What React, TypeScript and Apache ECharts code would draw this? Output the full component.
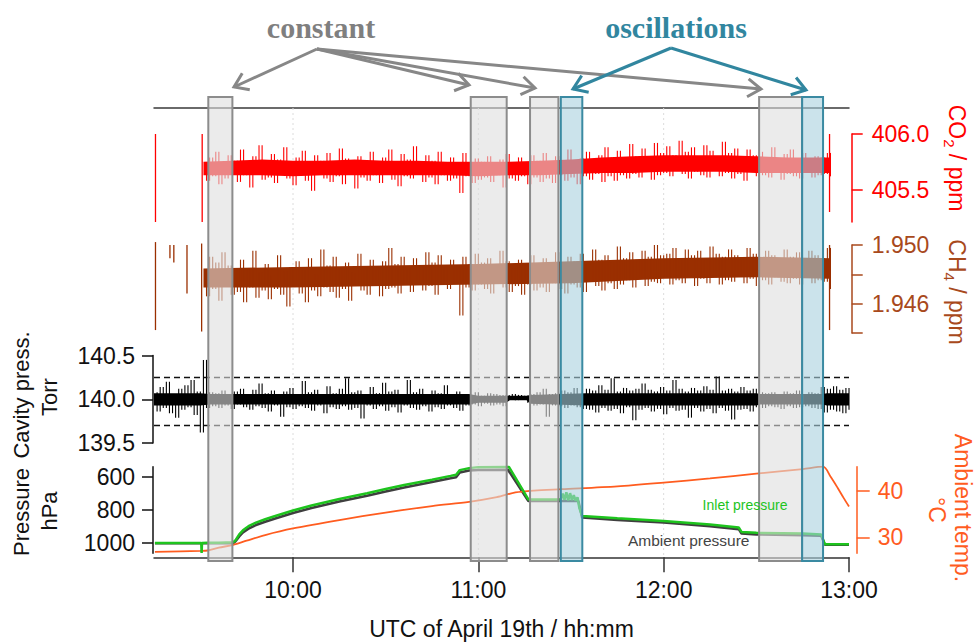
import { useEffect, useRef } from 'react';
import * as echarts from 'echarts';

// ---- time axis (decimal hours, UTC), 09:15 - 13:00 ----
const timeRange = [9.25, 13.0];
const hourTicks = [10, 11, 12, 13];
const hourGuides = [10, 11, 12];
const minuteStep = 1 / 60; // one logged value per minute

// ---- CO2 (ppm), one value per minute from 09:31 ----
const co2Start = 9 + 31 / 60;
const co2Ppm = [
  405.70, 405.58, 405.79, 405.62, 405.84, 405.55, 405.74, 405.60, 405.81, 405.66,
  405.76, 405.57, 405.86, 405.63, 405.72, 405.52, 405.80, 405.64, 405.90, 405.59,
  405.73, 405.61, 405.82, 405.56, 405.77, 405.65, 405.88, 405.60, 405.71, 405.54,
  405.79, 405.63, 405.85, 405.58, 405.74, 405.49, 405.81, 405.66, 405.76, 405.60,
  405.83, 405.57, 405.70, 405.62, 405.87, 405.55, 405.78, 405.64, 405.73, 405.51,
  405.80, 405.61, 405.75, 405.58, 405.84, 405.63, 405.71, 405.56, 405.79, 405.65,
  405.86, 405.59, 405.74, 405.53, 405.82, 405.62, 405.77, 405.60, 405.89, 405.64,
  405.72, 405.57, 405.81, 405.61, 405.76, 405.55, 405.84, 405.63, 405.70, 405.58,
  405.79, 405.60, 405.74, 405.47, 405.83, 405.62, 405.71, 405.56, 405.78, 405.59,
  405.75, 405.61, 405.80, 405.57, 405.73, 405.63, 405.77, 405.52, 405.82, 405.60,
  405.74, 405.58, 405.79, 405.62, 405.70, 405.55, 405.81, 405.61, 405.76, 405.57,
  405.83, 405.60, 405.72, 405.56, 405.80, 405.63, 405.75, 405.58, 405.86, 405.61,
  405.73, 405.55, 405.78, 405.62, 405.84, 405.59, 405.76, 405.64, 405.81, 405.57,
  405.88, 405.62, 405.79, 405.58, 405.85, 405.63, 405.77, 405.60, 405.91, 405.64,
  405.80, 405.61, 405.87, 405.66, 405.78, 405.59, 405.92, 405.63, 405.83, 405.65,
  405.89, 405.62, 405.81, 405.67, 405.94, 405.64, 405.84, 405.60, 405.88, 405.66,
  405.80, 405.63, 405.90, 405.61, 405.85, 405.67, 405.79, 405.62, 405.93, 405.65,
  405.83, 405.60, 405.87, 405.64, 405.78, 405.58, 405.86, 405.66, 405.81, 405.62,
  405.84, 405.63, 405.79, 405.61, 405.88, 405.65, 405.76, 405.59, 405.82, 405.64,
  405.86, 405.62, 405.78, 405.60, 405.83, 405.66, 405.75, 405.61, 405.80, 405.63,
  405.79, 405.64, 405.83, 405.62,
];
// dense core of the 1 Hz signal: [time, low, high]
const co2Band = [
  [9.517, 405.63, 405.75], [9.667, 405.63, 405.76], [9.833, 405.63, 405.77],
  [10.0, 405.62, 405.76], [10.167, 405.63, 405.76], [10.333, 405.63, 405.77],
  [10.5, 405.63, 405.76], [10.667, 405.63, 405.76], [10.833, 405.63, 405.75],
  [11.0, 405.62, 405.75], [11.167, 405.63, 405.75], [11.333, 405.63, 405.76],
  [11.5, 405.64, 405.77], [11.667, 405.65, 405.79], [11.833, 405.65, 405.80],
  [12.0, 405.66, 405.81], [12.167, 405.66, 405.81], [12.333, 405.66, 405.81],
  [12.5, 405.65, 405.80], [12.667, 405.65, 405.79], [12.9, 405.65, 405.79],
];
// short vertical excursions: [time, upper, lower]
const co2Dropouts = [
  [9.258, 406.0, 405.21],
  [9.51, 406.0, 405.21],
  [12.895, 406.0, 405.3],
];
const co2Range = [405.21, 406.0];
const co2Ticks = [405.5, 406.0];

// ---- CH4 (ppm), one value per minute from 09:31 ----
const ch4Start = 9 + 31 / 60;
const ch4Ppm = [
  1.9480, 1.9465, 1.9492, 1.9470, 1.9488, 1.9462, 1.9495, 1.9473, 1.9486, 1.9466,
  1.9484, 1.9468, 1.9490, 1.9461, 1.9483, 1.9471, 1.9496, 1.9464, 1.9481, 1.9469,
  1.9487, 1.9463, 1.9479, 1.9470, 1.9493, 1.9466, 1.9482, 1.9458, 1.9485, 1.9472,
  1.9489, 1.9467, 1.9483, 1.9461, 1.9491, 1.9469, 1.9480, 1.9465, 1.9497, 1.9471,
  1.9486, 1.9468, 1.9492, 1.9464, 1.9484, 1.9470, 1.9488, 1.9462, 1.9481, 1.9473,
  1.9494, 1.9469, 1.9485, 1.9466, 1.9490, 1.9472, 1.9483, 1.9465, 1.9489, 1.9470,
  1.9498, 1.9471, 1.9487, 1.9467, 1.9492, 1.9473, 1.9484, 1.9468, 1.9491, 1.9474,
  1.9486, 1.9469, 1.9495, 1.9472, 1.9488, 1.9466, 1.9493, 1.9473, 1.9485, 1.9470,
  1.9490, 1.9474, 1.9486, 1.9452, 1.9492, 1.9471, 1.9487, 1.9469, 1.9494, 1.9473,
  1.9488, 1.9470, 1.9491, 1.9467, 1.9485, 1.9474, 1.9496, 1.9471, 1.9489, 1.9468,
  1.9484, 1.9472, 1.9490, 1.9466, 1.9487, 1.9473, 1.9493, 1.9469, 1.9486, 1.9471,
  1.9491, 1.9468, 1.9488, 1.9474, 1.9495, 1.9470, 1.9486, 1.9467, 1.9492, 1.9473,
  1.9489, 1.9471, 1.9494, 1.9468, 1.9487, 1.9475, 1.9497, 1.9472, 1.9490, 1.9469,
  1.9493, 1.9474, 1.9488, 1.9470, 1.9499, 1.9473, 1.9491, 1.9476, 1.9495, 1.9471,
  1.9490, 1.9477, 1.9496, 1.9472, 1.9492, 1.9475, 1.9500, 1.9474, 1.9493, 1.9478,
  1.9494, 1.9473, 1.9498, 1.9476, 1.9491, 1.9474, 1.9497, 1.9479, 1.9493, 1.9472,
  1.9496, 1.9477, 1.9490, 1.9474, 1.9499, 1.9478, 1.9494, 1.9473, 1.9492, 1.9476,
  1.9497, 1.9475, 1.9493, 1.9479, 1.9490, 1.9474, 1.9498, 1.9477, 1.9494, 1.9472,
  1.9491, 1.9476, 1.9496, 1.9473, 1.9493, 1.9478, 1.9489, 1.9475, 1.9497, 1.9474,
  1.9492, 1.9477, 1.9495, 1.9473, 1.9490, 1.9479, 1.9496, 1.9474, 1.9493, 1.9476,
  1.9491, 1.9475, 1.9498, 1.9470,
];
const ch4Band = [
  [9.517, 1.9471, 1.9484], [10.0, 1.9471, 1.9485], [10.5, 1.9472, 1.9486],
  [11.0, 1.9473, 1.9487], [11.5, 1.9474, 1.9489], [12.0, 1.9477, 1.9491],
  [12.5, 1.9478, 1.9492], [12.9, 1.9477, 1.9491],
];
const ch4Dropouts = [
  [9.258, 1.9502, 1.9442],
  [9.336, 1.95, 1.9491],
  [9.357, 1.95, 1.9488],
  [9.428, 1.95, 1.9467],
  [9.507, 1.9501, 1.9441],
  [12.895, 1.95, 1.9442],
];
const ch4Range = [1.944, 1.95];
const ch4Ticks = [1.944, 1.946, 1.948, 1.95];
const ch4Labels = [1.946, 1.95];

// ---- cavity pressure (Torr), one value per minute from 09:15 ----
const cavityStart = 9.25;
const cavityTorr = [
  140.08, 139.86, 140.14, 139.90, 140.20, 139.84, 140.06, 139.79, 140.12, 139.88,
  140.16, 139.91, 140.22, 139.82, 140.09, 139.62, 140.45, 139.90, 140.08, 139.92,
  140.07, 139.90, 140.10, 139.93, 140.06, 139.89, 140.09, 139.94, 140.12, 139.91,
  140.05, 139.88, 140.11, 139.92, 140.18, 139.90, 140.07, 139.86, 140.10, 139.93,
  140.06, 139.80, 140.09, 139.91, 140.13, 139.89, 140.05, 139.92, 140.21, 139.90,
  140.08, 139.87, 140.11, 139.93, 140.06, 139.84, 140.15, 139.91, 140.07, 139.89,
  140.12, 139.92, 140.24, 139.88, 140.08, 139.90, 140.10, 139.78, 140.06, 139.93,
  140.14, 139.89, 140.07, 139.92, 140.19, 139.87, 140.09, 139.91, 140.11, 139.85,
  140.06, 139.93, 140.22, 139.90, 140.08, 139.88, 140.12, 139.92, 140.05, 139.86,
  140.10, 139.91, 140.07, 139.89, 140.16, 139.93, 140.06, 139.90, 140.09, 139.87,
  140.06, 139.93, 140.05, 139.94, 140.08, 139.92, 140.04, 139.95, 140.07, 139.93,
  140.06, 139.94, 140.05, 139.92, 140.05, 140.00, 140.06, 139.99, 140.05, 140.00,
  140.04, 139.96, 140.06, 139.93, 140.08, 139.94, 140.12, 139.80, 140.06, 139.93,
  140.07, 139.92, 140.10, 139.90, 140.08, 139.93, 140.13, 139.91, 140.06, 139.89,
  140.12, 139.88, 140.10, 139.85, 140.16, 139.90, 140.11, 139.87, 140.24, 139.89,
  140.09, 139.84, 140.13, 139.91, 140.10, 139.76, 140.12, 139.88, 140.18, 139.90,
  140.11, 139.86, 140.09, 139.89, 140.14, 139.83, 140.10, 139.90, 140.22, 139.87,
  140.12, 139.88, 140.09, 139.79, 140.13, 139.90, 140.10, 139.86, 140.15, 139.89,
  140.11, 139.84, 140.26, 139.90, 140.10, 139.87, 140.12, 139.77, 140.09, 139.88,
  140.14, 139.89, 140.10, 139.86, 140.12, 139.91, 140.08, 139.90, 140.07, 139.92,
  140.08, 139.91, 140.06, 139.89, 140.09, 139.92, 140.07, 139.90, 140.10, 139.91,
  140.06, 139.92, 140.08, 139.90, 140.07, 139.89, 140.14, 139.85, 140.12, 139.88,
  140.15, 139.86, 140.11, 139.84, 140.13, 139.88,
];
const cavityBand = [
  [9.25, 139.93, 140.07], [9.5, 139.93, 140.07], [9.55, 139.94, 140.06],
  [10.95, 139.94, 140.06], [11.0, 139.96, 140.04], [11.15, 139.96, 140.04],
  [11.17, 139.99, 140.04], [11.26, 139.99, 140.04], [11.28, 139.95, 140.05],
  [11.58, 139.93, 140.07], [12.5, 139.93, 140.07], [12.52, 139.94, 140.06],
  [12.86, 139.94, 140.06], [12.88, 139.93, 140.07], [13.0, 139.93, 140.07],
];
const cavityLimits = [140.25, 139.7];
const cavityRange = [139.5, 140.5];
const cavityTicks = [139.5, 140.0, 140.5];

// ---- inlet / ambient pressure (hPa) and ambient temperature (°C) ----
const inletPressure = [
  [9.255, 1002], [9.505, 1002], [9.507, 1062], [9.509, 1002], [9.54, 1001], [9.6, 1000],
  [9.677, 998], [9.69, 985], [9.71, 950], [9.73, 925], [9.76, 900], [9.8, 878],
  [9.85, 858], [9.9, 840], [10.0, 805], [10.1, 775], [10.25, 735], [10.4, 700],
  [10.5, 675], [10.6, 650], [10.75, 618], [10.85, 595], [10.88, 588], [10.9, 560],
  [10.95, 548], [11.0, 542], [11.165, 540], [11.27, 738], [11.445, 738], [11.455, 702],
  [11.465, 740], [11.475, 695], [11.485, 744], [11.495, 700], [11.505, 742], [11.515, 712],
  [11.525, 746], [11.535, 725], [11.545, 790], [11.56, 838], [11.75, 852], [12.0, 868],
  [12.25, 890], [12.405, 908], [12.42, 935], [12.5, 940], [12.75, 945], [12.85, 950],
  [12.87, 1010], [13.0, 1010],
];
const ambientPressure = [
  [9.255, 1004], [9.677, 1004], [9.69, 992], [9.71, 962], [9.73, 938], [9.76, 915],
  [9.8, 893], [9.85, 873], [9.9, 855], [10.0, 820], [10.1, 790], [10.25, 750],
  [10.4, 715], [10.5, 690], [10.6, 665], [10.75, 632], [10.85, 610], [10.88, 603],
  [10.9, 575], [10.95, 563], [11.0, 560], [11.16, 558], [11.27, 748], [11.54, 748],
  [11.56, 848], [11.75, 862], [12.0, 878], [12.25, 900], [12.405, 918], [12.42, 945],
  [12.5, 950], [12.75, 955], [12.85, 958], [12.87, 1012], [13.0, 1012],
];
const pressureRange = [539.4, 1064.4];
const pressureTicks = [600, 800, 1000];
const ambientTemp = [
  [9.255, 26.9], [9.5, 27.1], [9.54, 27.2], [9.6, 27.8], [9.677, 28.4], [9.75, 29.3],
  [9.85, 30.5], [10.0, 31.9], [10.25, 33.7], [10.5, 35.3], [10.75, 36.7], [10.95, 37.6],
  [11.1, 38.6], [11.2, 39.6], [11.3, 40.0], [11.45, 40.3], [11.75, 40.9], [12.0, 41.7],
  [12.25, 42.6], [12.5, 43.6], [12.75, 44.6], [12.86, 45.1], [12.9, 43.0], [12.94, 40.5],
  [12.97, 38.5], [13.0, 36.6],
];
const tempRange = [26.6, 45.1];
const tempTicks = [30, 40];

// ---- measurement windows ----
const constantWindows = [
  [9.543, 9.673],
  [10.959, 11.153],
  [11.279, 11.432],
  [12.515, 12.747],
];
const oscillationWindows = [
  [11.445, 11.561],
  [12.747, 12.86],
];

const sans = '"Liberation Sans", Arial, Helvetica, sans-serif';
const serif = '"Liberation Serif", "Times New Roman", serif';

const RED = '#ff0000';
const BROWN = '#9a2f00';
const BROWN_AXIS = '#a8491c';
const GREEN = '#1ec41e';
const AMBIENT = '#3f3f3f';
const ORANGE = '#ff5c1f';
const GRAY_TXT = '#7f7f7f';
const TEAL = '#31869f';

const gridLeft = 154;
const gridWidth = 695;

function xAxisFor(gridIndex: number, extra: any = {}) {
  return {
    type: 'value',
    gridIndex,
    min: timeRange[0],
    max: timeRange[1],
    show: false,
    splitLine: { show: false },
    ...extra,
  };
}

function valueAxis(opts: {
  gridIndex: number;
  position: 'left' | 'right';
  range: number[];
  color: string;
  ticks: number[];
  labels: number[];
  digits: number;
  offset: number;
  margin: number;
  tickLen: number;
  inverse?: boolean;
}) {
  return {
    type: 'value',
    gridIndex: opts.gridIndex,
    position: opts.position,
    min: opts.range[0],
    max: opts.range[1],
    inverse: !!opts.inverse,
    offset: opts.offset,
    splitLine: { show: false },
    axisLine: { show: true, lineStyle: { color: opts.color, width: 1.5 } },
    axisTick: {
      show: true,
      inside: false,
      length: opts.tickLen,
      customValues: opts.ticks,
      lineStyle: { color: opts.color, width: 1.5 },
    },
    axisLabel: {
      show: true,
      customValues: opts.labels,
      margin: opts.margin,
      color: opts.color,
      fontSize: 23,
      fontFamily: sans,
      formatter: (v: number) => v.toFixed(opts.digits),
    },
  };
}

// Each minute is drawn as a vertical stroke spanning the previous and the current reading,
// which renders the fast fluctuations as a dense hatch.
function noiseStrokes(axis: number, start: number, values: number[], color: string, extra: any = {}) {
  const data = values.map((v, i) => [start + i * minuteStep, i > 0 ? values[i - 1] : v, v]);
  return {
    type: 'custom',
    xAxisIndex: axis,
    yAxisIndex: axis,
    data,
    encode: { x: 0, y: [1, 2] },
    silent: true,
    z: 3,
    renderItem: (_p: any, api: any) => {
      const a = api.coord([api.value(0), api.value(1)]);
      const b = api.coord([api.value(0), api.value(2)]);
      return {
        type: 'line',
        shape: { x1: a[0], y1: a[1], x2: b[0], y2: b[1] },
        style: { stroke: color, lineWidth: 1.1 },
      };
    },
    ...extra,
  };
}

// filled core of a noisy trace, drawn between the low and high envelopes
function bandSeries(axis: number, band: number[][], color: string) {
  return {
    type: 'custom',
    xAxisIndex: axis,
    yAxisIndex: axis,
    data: [band[0]],
    encode: { x: 0, y: [1, 2] },
    silent: true,
    z: 2,
    renderItem: (_p: any, api: any) => {
      const upper = band.map((b) => api.coord([b[0], b[2]]));
      const lower = band.map((b) => api.coord([b[0], b[1]])).reverse();
      return {
        type: 'polygon',
        shape: { points: [...upper, ...lower] },
        style: { fill: color },
      };
    },
  };
}

function dropoutSeries(axis: number, data: number[][], color: string) {
  return {
    type: 'custom',
    xAxisIndex: axis,
    yAxisIndex: axis,
    data,
    encode: { x: 0, y: [1, 2] },
    silent: true,
    z: 3,
    renderItem: (_p: any, api: any) => {
      const a = api.coord([api.value(0), api.value(1)]);
      const b = api.coord([api.value(0), api.value(2)]);
      return {
        type: 'line',
        shape: { x1: a[0], y1: a[1], x2: b[0], y2: b[1] },
        style: { stroke: color, lineWidth: 1.3 },
      };
    },
  };
}

function windowSeries(data: number[][], fill: string, stroke: string, z: number) {
  return {
    type: 'custom',
    xAxisIndex: 0,
    yAxisIndex: 0,
    data,
    encode: { x: [0, 1] },
    silent: true,
    z,
    renderItem: (_p: any, api: any) => {
      const a = api.coord([api.value(0), 1]);
      const b = api.coord([api.value(1), 0]);
      return {
        type: 'rect',
        shape: { x: a[0], y: a[1], width: b[0] - a[0], height: b[1] - a[1] },
        style: { fill, stroke, lineWidth: 2 },
      };
    },
  };
}

function arrow(from: number[], to: number[], color: string) {
  const ang = Math.atan2(to[1] - from[1], to[0] - from[0]);
  const len = 16;
  const spread = 0.6;
  const p1 = [to[0] - len * Math.cos(ang - spread), to[1] - len * Math.sin(ang - spread)];
  const p2 = [to[0] - len * Math.cos(ang + spread), to[1] - len * Math.sin(ang + spread)];
  return [
    {
      type: 'line',
      shape: { x1: from[0], y1: from[1], x2: to[0], y2: to[1] },
      style: { stroke: color, lineWidth: 3 },
      z: 20,
    },
    {
      type: 'polyline',
      shape: { points: [p1, to, p2] },
      style: { stroke: color, lineWidth: 3, fill: null },
      z: 20,
    },
  ];
}

function rotatedText(x: number, y: number, rotation: number, text: string, color: string, size = 23, rich?: any) {
  return {
    type: 'text',
    x,
    y,
    rotation,
    z: 20,
    style: {
      text,
      fill: color,
      fontSize: size,
      fontFamily: sans,
      align: 'center',
      verticalAlign: 'middle',
      ...(rich ? { rich } : {}),
    },
  };
}

function subscriptRich(color: string) {
  return {
    n: { fontSize: 23, fontFamily: sans, fill: color, lineHeight: 30, verticalAlign: 'middle' },
    s: { fontSize: 15, fontFamily: sans, fill: color, lineHeight: 14, verticalAlign: 'bottom' },
  };
}

function buildOption() {
  const constantFrom = [317, 49];
  const oscFrom = [671, 48];
  const graphic: any[] = [
    {
      type: 'text',
      x: 321,
      y: 27,
      z: 20,
      style: { text: 'constant', fill: GRAY_TXT, fontSize: 30, fontWeight: 'bold', fontFamily: serif, align: 'center', verticalAlign: 'middle' },
    },
    {
      type: 'text',
      x: 676,
      y: 27,
      z: 20,
      style: { text: 'oscillations', fill: TEAL, fontSize: 30, fontWeight: 'bold', fontFamily: serif, align: 'center', verticalAlign: 'middle' },
    },
    ...arrow(constantFrom, [234, 87], '#878787'),
    ...arrow(constantFrom, [469, 85], '#878787'),
    ...arrow(constantFrom, [535, 88], '#878787'),
    ...arrow(constantFrom, [761, 89], '#878787'),
    ...arrow(oscFrom, [573, 89], TEAL),
    ...arrow(oscFrom, [806, 90], TEAL),
    rotatedText(957, 158, -Math.PI / 2, '{n|CO}{s|2}{n| / ppm}', RED, 23, subscriptRich(RED)),
    rotatedText(957, 292, -Math.PI / 2, '{n|CH}{s|4}{n| / ppm}', BROWN_AXIS, 23, subscriptRich(BROWN_AXIS)),
    rotatedText(21, 395, Math.PI / 2, 'Cavity press.', '#111', 22),
    rotatedText(49, 397, Math.PI / 2, 'Torr', '#111', 22),
    rotatedText(21, 512, Math.PI / 2, 'Pressure', '#111', 22),
    rotatedText(49, 511, Math.PI / 2, 'hPa', '#111', 22),
    rotatedText(963, 508, -Math.PI / 2, 'Ambient temp.', ORANGE, 23),
    rotatedText(937, 510, -Math.PI / 2, '°C', ORANGE, 23),
    {
      type: 'text',
      x: 745,
      y: 505,
      z: 20,
      style: { text: 'Inlet pressure', fill: GREEN, fontSize: 14, fontFamily: sans, align: 'center', verticalAlign: 'middle' },
    },
    {
      type: 'text',
      x: 628,
      y: 540,
      z: 20,
      style: { text: 'Ambient pressure', fill: '#444', fontSize: 15.5, fontFamily: sans, align: 'left', verticalAlign: 'middle' },
    },
  ];

  return {
    animation: false,
    backgroundColor: '#ffffff',
    grid: [
      { left: gridLeft, width: gridWidth, top: 97, height: 464 },
      { left: gridLeft, width: gridWidth, top: 134, height: 88 },
      { left: gridLeft, width: gridWidth, top: 245, height: 88 },
      { left: gridLeft, width: gridWidth, top: 355.5, height: 87.5 },
      { left: gridLeft, width: gridWidth, top: 466.7, height: 86.6 },
      { left: gridLeft, width: gridWidth, top: 108, height: 449 },
    ],
    xAxis: [
      xAxisFor(0),
      xAxisFor(1, {
        show: true,
        position: 'top',
        offset: 26,
        axisLine: { show: true, onZero: false, lineStyle: { color: '#3a3a3a', width: 1.5 } },
        axisTick: { show: false },
        axisLabel: { show: false },
      }),
      xAxisFor(2),
      xAxisFor(3),
      xAxisFor(4, {
        show: true,
        position: 'bottom',
        offset: 4,
        axisLine: { show: true, onZero: false, lineStyle: { color: '#333', width: 1.5 } },
        axisTick: { show: true, inside: false, length: 15, customValues: hourTicks, lineStyle: { color: '#333', width: 1.5 } },
        axisLabel: {
          show: true,
          customValues: hourTicks,
          margin: 21,
          fontSize: 23,
          fontFamily: sans,
          color: '#111',
          formatter: (v: number) => `${Math.round(v)}:00`,
        },
        name: 'UTC of April 19th / hh:mm',
        nameLocation: 'middle',
        nameGap: 60,
        nameTextStyle: { fontSize: 23, fontFamily: sans, color: '#111' },
      }),
      xAxisFor(5),
    ],
    yAxis: [
      { type: 'value', gridIndex: 0, min: 0, max: 1, show: false },
      valueAxis({ gridIndex: 1, position: 'right', range: co2Range, color: RED, ticks: co2Ticks, labels: co2Ticks, digits: 1, offset: 2.7, margin: 20, tickLen: 11 }),
      valueAxis({ gridIndex: 2, position: 'right', range: ch4Range, color: BROWN_AXIS, ticks: ch4Ticks, labels: ch4Labels, digits: 3, offset: 2.7, margin: 20, tickLen: 11 }),
      valueAxis({ gridIndex: 3, position: 'left', range: cavityRange, color: '#111', ticks: cavityTicks, labels: cavityTicks, digits: 1, offset: 1, margin: 18, tickLen: 11 }),
      valueAxis({ gridIndex: 4, position: 'left', range: pressureRange, color: '#111', ticks: pressureTicks, labels: pressureTicks, digits: 0, offset: 1, margin: 18, tickLen: 11, inverse: true }),
      valueAxis({ gridIndex: 4, position: 'right', range: tempRange, color: ORANGE, ticks: tempTicks, labels: tempTicks, digits: 0, offset: 7.7, margin: 21, tickLen: 13 }),
      { type: 'value', gridIndex: 5, min: 0, max: 1, show: false },
    ],
    graphic,
    series: [
      {
        type: 'custom',
        xAxisIndex: 5,
        yAxisIndex: 6,
        data: hourGuides.map((h) => [h]),
        encode: { x: 0 },
        silent: true,
        z: 1,
        renderItem: (_p: any, api: any) => {
          const a = api.coord([api.value(0), 1]);
          const b = api.coord([api.value(0), 0]);
          return {
            type: 'line',
            shape: { x1: a[0], y1: a[1], x2: b[0], y2: b[1] },
            style: { stroke: '#dcdcdc', lineWidth: 1, lineDash: [2, 3] },
          };
        },
      },
      bandSeries(1, co2Band, RED),
      noiseStrokes(1, co2Start, co2Ppm, RED),
      dropoutSeries(1, co2Dropouts, RED),
      bandSeries(2, ch4Band, BROWN),
      noiseStrokes(2, ch4Start, ch4Ppm, BROWN),
      dropoutSeries(2, ch4Dropouts, BROWN),
      bandSeries(3, cavityBand, '#000'),
      noiseStrokes(3, cavityStart, cavityTorr, '#000'),
      {
        name: 'Cavity limits',
        type: 'line',
        xAxisIndex: 3,
        yAxisIndex: 3,
        data: [],
        silent: true,
        markLine: {
          silent: true,
          symbol: 'none',
          label: { show: false },
          lineStyle: { color: '#111', type: [6, 4], width: 1.3 },
          data: cavityLimits.map((v) => ({ yAxis: v })),
        },
      },
      {
        name: 'Ambient pressure',
        type: 'line',
        xAxisIndex: 4,
        yAxisIndex: 4,
        data: ambientPressure,
        symbol: 'none',
        lineStyle: { color: AMBIENT, width: 2.5 },
        silent: true,
        z: 3,
      },
      {
        name: 'Inlet pressure',
        type: 'line',
        xAxisIndex: 4,
        yAxisIndex: 4,
        data: inletPressure,
        symbol: 'none',
        lineStyle: { color: GREEN, width: 2.5 },
        silent: true,
        z: 4,
      },
      {
        name: 'Ambient temp.',
        type: 'line',
        xAxisIndex: 4,
        yAxisIndex: 5,
        data: ambientTemp,
        symbol: 'none',
        smooth: 0.3,
        lineStyle: { color: ORANGE, width: 1.8 },
        silent: true,
        z: 3,
      },
      windowSeries(constantWindows, 'rgba(222,222,222,0.6)', '#8c8c8c', 10),
      windowSeries(oscillationWindows, 'rgba(168,208,222,0.6)', '#3a8aa2', 11),
    ],
  };
}

export default function App() {
  const ref = useRef<HTMLDivElement>(null);
  useEffect(() => {
    if (!ref.current) return;
    const chart = echarts.init(ref.current, null, { renderer: 'svg' });
    chart.setOption(buildOption() as any);
    return () => chart.dispose();
  }, []);
  return (
    <div
      ref={ref}
      style={{ position: 'fixed', left: 0, top: 0, width: 976, height: 643, background: '#fff' }}
    />
  );
}
